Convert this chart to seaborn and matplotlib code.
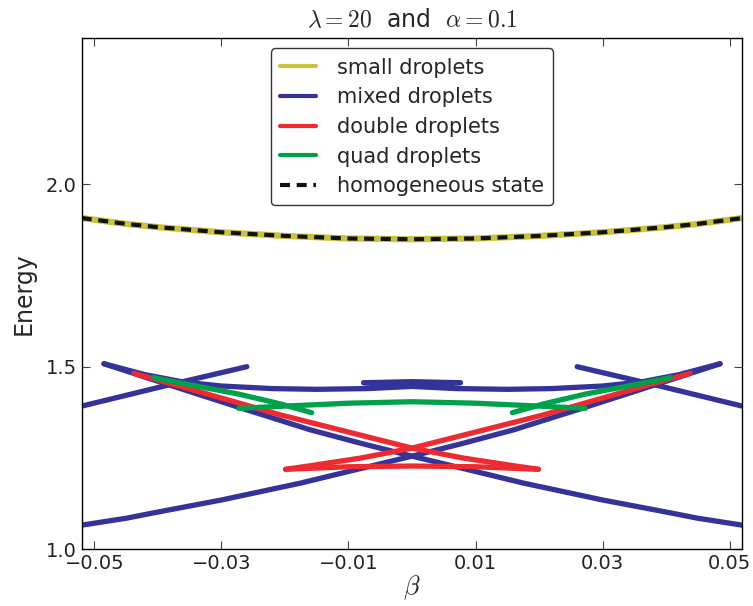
import matplotlib
matplotlib.use("Agg")
import matplotlib.pyplot as plt
import numpy as np
import pandas as pd
import seaborn as sns

# --- homogeneous state / small droplets (coincide) ---
beta_homog = [-0.052, -0.045, -0.04, -0.03, -0.02, -0.01, 0.0, 0.01, 0.02, 0.03, 0.04, 0.045, 0.052]
energy_homog = [1.907, 1.891, 1.882, 1.868, 1.858, 1.851, 1.849, 1.851, 1.858, 1.868, 1.882, 1.891, 1.907]

# --- mixed droplets: long branch rising to the right cusp ---
beta_mixed_long = [-0.052, -0.045, -0.04, -0.03, -0.0176, -0.01, 0.0, 0.008, 0.016, 0.0275, 0.04, 0.0485]
energy_mixed_long = [1.066, 1.085, 1.102, 1.135, 1.181, 1.213, 1.255, 1.290, 1.327, 1.390, 1.460, 1.508]

# --- mixed droplets: short branch entering from the left edge ---
beta_mixed_short = [-0.052, -0.039, -0.026]
energy_mixed_short = [1.392, 1.447, 1.500]

# --- mixed droplets: upper arc from the left cusp to the small central cusp ---
beta_mixed_arc = [-0.0485, -0.042, -0.036, -0.03, -0.022, -0.015, -0.007, 0.0, 0.0076]
energy_mixed_arc = [1.508, 1.478, 1.458, 1.447, 1.440, 1.438, 1.440, 1.446, 1.456]

# --- mixed droplets: short segment joining the two central cusps ---
beta_mixed_top = [-0.0076, 0.0, 0.0076]
energy_mixed_top = [1.456, 1.459, 1.456]

# --- double droplets ---
beta_double_line = [-0.0438, -0.032, -0.0207, -0.01, 0.0, 0.008, 0.0159, 0.0199]
energy_double_line = [1.482, 1.424, 1.368, 1.321, 1.277, 1.250, 1.229, 1.219]
beta_double_base = [-0.0199, -0.01, 0.0, 0.01, 0.0199]
energy_double_base = [1.219, 1.226, 1.228, 1.226, 1.219]

# --- quad droplets ---
beta_quad_line = [-0.0407, -0.034, -0.0273, -0.0207, -0.0158]
energy_quad_line = [1.470, 1.447, 1.425, 1.398, 1.374]
beta_quad_arc = [-0.0273, -0.02, -0.01, 0.0, 0.01, 0.02, 0.0273]
energy_quad_arc = [1.386, 1.392, 1.400, 1.404, 1.400, 1.392, 1.386]

x_ticks = [-0.05, -0.03, -0.01, 0.01, 0.03, 0.05]
x_tick_labels = ["\u22120.05", "\u22120.03", "\u22120.01", "0.01", "0.03", "0.05"]
y_ticks = [1.0, 1.5, 2.0]
y_tick_labels = ["1.0", "1.5", "2.0"]

C_YELLOW = "#c8c23c"
C_BLUE = "#333399"
C_RED = "#ec2a30"
C_GREEN = "#00a14b"

sns.set_style("ticks")
plt.rcParams.update({
    "font.family": ["DejaVu Sans"],
    "mathtext.fontset": "cm",
    "xtick.direction": "in",
    "ytick.direction": "in",
    "xtick.top": True,
    "ytick.right": True,
    "xtick.major.size": 6,
    "ytick.major.size": 6,
    "xtick.color": "#444444",
    "ytick.color": "#444444",
    "xtick.labelcolor": "#222222",
    "ytick.labelcolor": "#222222",
    "axes.edgecolor": "black",
    "axes.linewidth": 1.0,
})

fig = plt.figure(figsize=(7.53, 6.06), dpi=100)
ax = fig.add_axes([0.1085, 0.0936, 0.8773, 0.8437])

line_kw = dict(estimator=None, sort=False, ax=ax, solid_capstyle="round")


def branch(b, e, color, lw, label=None, mirror=False):
    df = pd.DataFrame({"beta": b, "energy": e})
    sns.lineplot(data=df, x="beta", y="energy", color=color, lw=lw, label=label, **line_kw)
    if mirror:
        dm = pd.DataFrame({"beta": [-v for v in b], "energy": e})
        sns.lineplot(data=dm, x="beta", y="energy", color=color, lw=lw, **line_kw)


# small droplets underneath the homogeneous state
branch(beta_homog, energy_homog, C_YELLOW, 4.5, "small droplets")

# mixed droplets
branch(beta_mixed_long, energy_mixed_long, C_BLUE, 3.8, "mixed droplets", mirror=True)
branch(beta_mixed_short, energy_mixed_short, C_BLUE, 3.8, mirror=True)
branch(beta_mixed_arc, energy_mixed_arc, C_BLUE, 3.8, mirror=True)
branch(beta_mixed_top, energy_mixed_top, C_BLUE, 3.8)

# double droplets
branch(beta_double_line, energy_double_line, C_RED, 3.8, "double droplets", mirror=True)
branch(beta_double_base, energy_double_base, C_RED, 3.8)

# quad droplets
branch(beta_quad_line, energy_quad_line, C_GREEN, 3.8, "quad droplets", mirror=True)
branch(beta_quad_arc, energy_quad_arc, C_GREEN, 3.8)

# homogeneous state on top, dashed
dfh = pd.DataFrame({"beta": beta_homog, "energy": energy_homog})
sns.lineplot(data=dfh, x="beta", y="energy", color="#111111", lw=3.0,
             dashes=False, estimator=None, sort=False, ax=ax, label="homogeneous state")
ax.lines[-1].set_dashes([2.4, 1.6])

ax.set_xlim(-0.052, 0.052)
ax.set_ylim(1.0, 2.4)
ax.set_xticks(x_ticks)
ax.set_xticklabels(x_tick_labels, fontsize=14)
ax.set_yticks(y_ticks)
ax.set_yticklabels(y_tick_labels, fontsize=14)
ax.set_xlabel(r"$\beta$", fontsize=19, labelpad=0)
ax.set_ylabel("Energy", fontsize=17, labelpad=7)
ax.set_title(r"$\lambda=20$  and  $\alpha=0.1$", fontsize=17, pad=8)

leg = ax.legend(loc="upper center", bbox_to_anchor=(0.5, 1.0), fontsize=15,
                frameon=True, fancybox=True, handlelength=1.7, handletextpad=1.0,
                labelspacing=0.46, borderpad=0.45)
leg.get_frame().set_edgecolor("black")
leg.get_frame().set_linewidth(1.0)
for h in leg.get_lines():
    h.set_linewidth(3.0)

fig.savefig("out.png", dpi=100)
